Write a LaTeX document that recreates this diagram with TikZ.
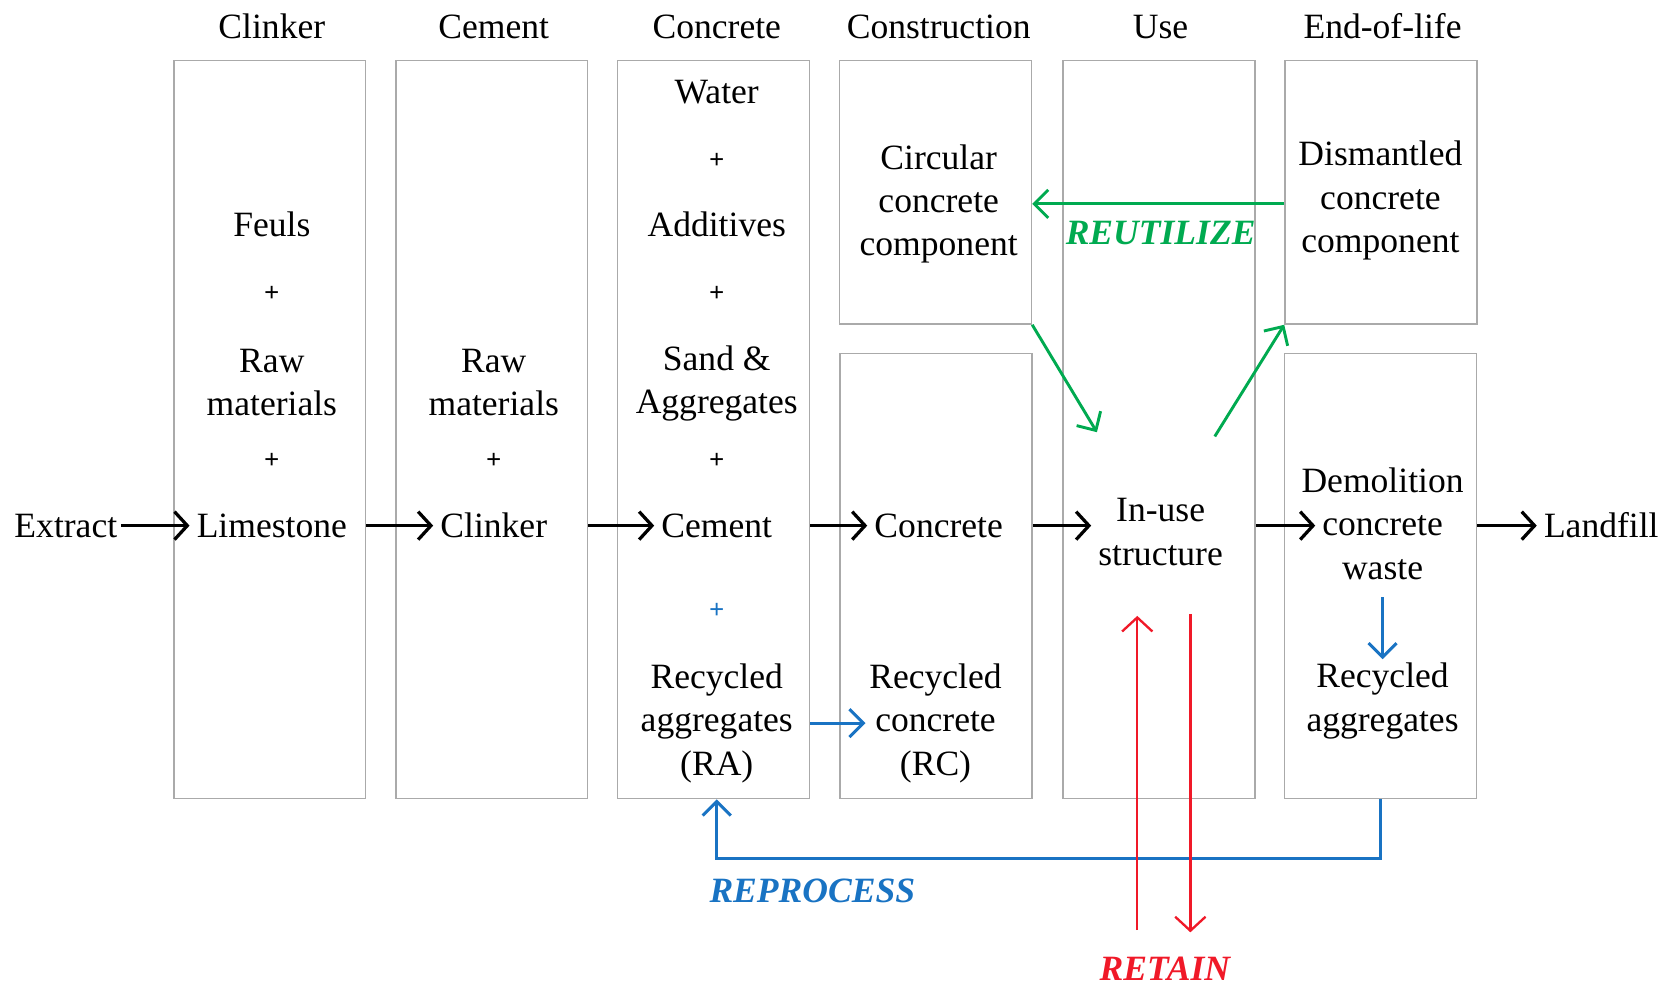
\documentclass[tikz,border=0pt]{standalone}
\usepackage{fontspec}
\setmainfont{Liberation Serif}
\usetikzlibrary{arrows.meta,calc}
\definecolor{boxgrey}{RGB}{170,170,170}
\definecolor{reusegreen}{RGB}{0,170,80}
\definecolor{reprocblue}{RGB}{25,115,195}
\definecolor{retainred}{RGB}{240,25,40}
\newcommand{\stagefont}{\fontsize{30.5}{37.2}\selectfont}
\newcommand{\signfont}{\fontsize{23}{27}\selectfont\bfseries}
\tikzset{
  stage/.style={draw=boxgrey, line width=1.4pt, minimum width=5.78cm, inner sep=0pt},
  tall/.style={stage, minimum height=22.24cm},
  upper/.style={stage, minimum height=7.94cm},
  lower/.style={stage, minimum height=13.41cm},
  item/.style={font=\stagefont, align=center, inner sep=3pt},
  addsign/.style={font=\signfont, inner sep=1pt},
  flow/.style={line width=2.8pt, -{Straight Barb[length=11pt,width=24pt]}, shorten >=3pt},
  reuse/.style={reusegreen, line width=2.5pt, -{Straight Barb[length=12pt,width=24pt]}},
  reproc/.style={reprocblue, line width=2.6pt, -{Straight Barb[length=12pt,width=24pt]}},
  keep/.style={retainred, line width=2pt, -{Straight Barb[length=12pt,width=26pt]}},
  tag/.style={font=\stagefont\bfseries\itshape, inner sep=2pt}
}

\begin{document}
\begin{tikzpicture}[x=0.032cm, y=-0.032cm]
  %%%%% FRAME %%%%%
  \useasboundingbox (0,0) rectangle (1568,929);

  %%%%% STAGE BOXES %%%%%
  \node[tall]  (b1)  at (254, 404.5)  {};
  \node[tall]  (b2)  at (463, 404.5)  {};
  \node[tall]  (b3)  at (672, 404.5)  {};
  \node[upper] (b4t) at (881, 181)    {};
  \node[lower] (b4b) at (881.5, 542.5) {};
  \node[tall]  (b5)  at (1091.5, 404.5) {};
  \node[upper] (b6t) at (1300.5, 181) {};
  \node[lower] (b6b) at (1300, 542.5) {};

  %%%%% HEADERS %%%%%
  \node[item] (hclinker) at (256, 25)  {Clinker};
  \node[item] (hcement)  at (465, 25)  {Cement};
  \node[item] (hconcrete) at (675, 25) {Concrete};
  \node[item] (hconstr)  at (884, 25)  {Construction};
  \node[item] (huse)     at (1093, 25) {Use};
  \node[item] (heol)     at (1302, 25) {End-of-life};

  %%%%% CLINKER %%%%%
  \node[item] (feuls) at (256, 211) {Feuls};
  \node[addsign] (p11) at (256, 277) {+};
  \node[item] (raw1) at (256, 360) {Raw\\materials};
  \node[addsign] (p12) at (256, 434) {+};
  \node[item] (limestone) at (256, 495) {Limestone};

  %%%%% CEMENT %%%%%
  \node[item] (raw2) at (465, 360) {Raw\\materials};
  \node[addsign] (p21) at (465, 434) {+};
  \node[item] (clinker) at (465, 495) {Clinker};

  %%%%% CONCRETE %%%%%
  \node[item] (water) at (675, 87) {Water};
  \node[addsign] (p31) at (675, 152) {+};
  \node[item] (additives) at (675, 211) {Additives};
  \node[addsign] (p32) at (675, 277) {+};
  \node[item] (sand) at (675, 361) {Sand \&\\Aggregates};
  \node[addsign] (p33) at (675, 434) {+};
  \node[item] (cement) at (675, 495) {Cement};
  \node[addsign, text=reprocblue] (p34) at (675, 575) {+};
  \node[item] (ra) at (675, 681) {Recycled\\aggregates\\(RA)};

  %%%%% CONSTRUCTION %%%%%
  \node[item] (circular) at (884, 192) {Circular\\concrete\\component};
  \node[item] (concrete) at (884, 495) {Concrete};
  \node[item] (rc) at (881, 681) {Recycled\\concrete\\(RC)};

  %%%%% USE %%%%%
  \node[item] (inuse) at (1093, 501) {In-use\\structure};

  %%%%% END OF LIFE %%%%%
  \node[item] (dismantled) at (1300, 189) {Dismantled\\concrete\\component};
  \node[item] (demolition) at (1302, 493) {Demolition\\concrete\\waste};
  \node[item] (recagg) at (1302, 660) {Recycled\\aggregates};

  %%%%% ENDS %%%%%
  \node[item] (extract) at (62, 495) {Extract};
  \node[item] (landfill) at (1508, 495) {Landfill};

  %%%%% MAIN FLOW %%%%%
  \draw[flow] (extract) -- (limestone);
  \draw[flow] (b1.east |- limestone) -- (clinker);
  \draw[flow] (b2.east |- clinker) -- (cement);
  \draw[flow] (b3.east |- cement) -- (concrete);
  \draw[flow] (b4b.east |- concrete) -- (inuse.west |- concrete);
  \draw[flow] (b5.east |- concrete) -- ($(b6b.west |- concrete)+(33,0)$);
  \draw[flow] (b6b.east |- concrete) -- (landfill);

  %%%%% REUTILIZE %%%%%
  \coordinate (usein) at (1033, 407);
  \coordinate (useout) at (1144, 411);
  \draw[reuse] (b6t.west |- circular) -- (b4t.east |- circular);
  \draw[reuse] (b4t.south east) -- (usein);
  \draw[reuse] (useout) -- (b6t.south west);
  \node[tag, text=reusegreen] (reutilize) at (1093, 219) {REUTILIZE};

  %%%%% REPROCESS %%%%%
  \draw[reproc] (b3.east |- ra) -- (rc.west |- ra);
  \draw[reproc, shorten <=12pt] (demolition) -- (recagg);
  \draw[reproc] (b6b.south) -- ++(0, 56) -| (ra |- b3.south);
  \node[tag, text=reprocblue] (reprocess) at (765, 839) {REPROCESS};

  %%%%% RETAIN %%%%%
  \coordinate (keepupS) at (1071, 876);
  \coordinate (keepupN) at (1071, 580);
  \coordinate (keepdnN) at (1121, 578);
  \coordinate (keepdnS) at (1121, 878);
  \draw[keep] (keepupS) -- (keepupN);
  \draw[keep] (keepdnN) -- (keepdnS);
  \node[tag, text=retainred] (retain) at (1097, 912) {RETAIN};
\end{tikzpicture}
\end{document}
